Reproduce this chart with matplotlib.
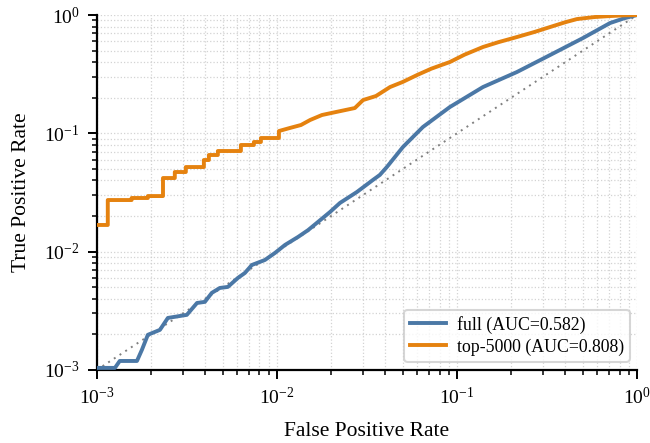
import matplotlib
matplotlib.use("Agg")
import matplotlib.pyplot as plt

# ROC points (log-log axes)
full_fpr = [0.001, 0.00126, 0.00134, 0.00167, 0.00178, 0.00192, 0.00224, 0.00248,
            0.00316, 0.0036, 0.00398, 0.00435, 0.00482, 0.00534, 0.00607, 0.00664,
            0.00726, 0.00858, 0.00975, 0.0111, 0.0131, 0.0149, 0.0169, 0.0197,
            0.0224, 0.0278, 0.0341, 0.0373, 0.0408, 0.0501, 0.0647, 0.0914,
            0.1395, 0.2154, 0.3288, 0.501, 0.708, 0.85, 1.0]
full_tpr = [0.00104, 0.00104, 0.00119, 0.00119, 0.00148, 0.00198, 0.00218, 0.00275,
            0.00292, 0.00368, 0.00376, 0.00448, 0.00493, 0.00503, 0.00599, 0.0066,
            0.00771, 0.0085, 0.00974, 0.0114, 0.0133, 0.0152, 0.0178, 0.0216,
            0.0258, 0.0319, 0.0403, 0.0445, 0.0519, 0.0766, 0.1131, 0.167,
            0.2463, 0.33, 0.459, 0.639, 0.856, 0.94, 1.0]

top_fpr = [0.001, 0.00115, 0.00115, 0.00156, 0.00156, 0.00192, 0.00192, 0.00233,
           0.00233, 0.00271, 0.00271, 0.00312, 0.00312, 0.00393, 0.00393, 0.00419,
           0.00419, 0.0047, 0.0047, 0.00631, 0.00631, 0.00745, 0.00745, 0.00815,
           0.00815, 0.01026, 0.01026, 0.0118, 0.0136, 0.0153, 0.0178, 0.0213,
           0.0271, 0.0301, 0.0355, 0.0425, 0.050, 0.060, 0.072, 0.0914, 0.11,
           0.1395, 0.17, 0.2154, 0.27, 0.3288, 0.40, 0.464, 0.58, 0.708, 0.85, 1.0]
top_tpr = [0.0168, 0.0168, 0.0273, 0.0273, 0.0284, 0.0284, 0.0295, 0.0295,
           0.0419, 0.0419, 0.0471, 0.0471, 0.0519, 0.0519, 0.0595, 0.0595,
           0.0656, 0.0656, 0.0709, 0.0709, 0.0797, 0.0797, 0.0845, 0.0845,
           0.0913, 0.0913, 0.1046, 0.111, 0.1176, 0.1297, 0.1429, 0.1515,
           0.1637, 0.1912, 0.2068, 0.2463, 0.272, 0.311, 0.352, 0.401, 0.462,
           0.537, 0.59, 0.652, 0.72, 0.792, 0.87, 0.925, 0.962, 0.981, 0.995, 1.0]

labels = ["full (AUC=0.582)", "top-5000 (AUC=0.808)"]
colors = ["#4b78a6", "#e5820f"]

plt.rcParams["font.family"] = ["Liberation Serif", "DejaVu Serif"]
plt.rcParams["mathtext.fontset"] = "stix"

fig = plt.figure(figsize=(6.5, 4.43), dpi=100)
ax = fig.add_axes([0.149, 0.165, 0.831, 0.801])

ax.plot([1e-3, 1], [1e-3, 1], linestyle=(0, (1, 2.5)), color="gray", linewidth=1.4, zorder=1)
ax.plot(full_fpr, full_tpr, color=colors[0], linewidth=2.8, label=labels[0], zorder=3)
ax.plot(top_fpr, top_tpr, color=colors[1], linewidth=2.8, label=labels[1], zorder=3)

ax.set_xscale("log")
ax.set_yscale("log")
ax.set_xlim(1e-3, 1)
ax.set_ylim(1e-3, 1)

ax.set_xlabel("False Positive Rate", fontsize=15.5, labelpad=10)
ax.set_ylabel("True Positive Rate", fontsize=15.5, labelpad=9)

for side in ["top", "right"]:
    ax.spines[side].set_visible(False)
for side in ["left", "bottom"]:
    ax.spines[side].set_linewidth(1.6)

ax.tick_params(which="major", length=6.5, width=1.4, labelsize=14, direction="out", pad=6)
ax.tick_params(which="minor", length=3.5, width=1.1, direction="out")

ax.grid(True, which="both", linestyle=":", color="#c8c8c8", linewidth=0.9, alpha=0.8)
ax.set_axisbelow(True)

leg = ax.legend(loc="lower right", fontsize=12.8, frameon=True, fancybox=True,
                handlelength=2.0, borderpad=0.35, labelspacing=0.25, handletextpad=0.6,
                borderaxespad=0, bbox_to_anchor=(0.987, 0.023))
leg.get_frame().set_edgecolor("#cccccc")
leg.get_frame().set_linewidth(1.5)

fig.savefig("out.png", dpi=100)
plt.close(fig)
